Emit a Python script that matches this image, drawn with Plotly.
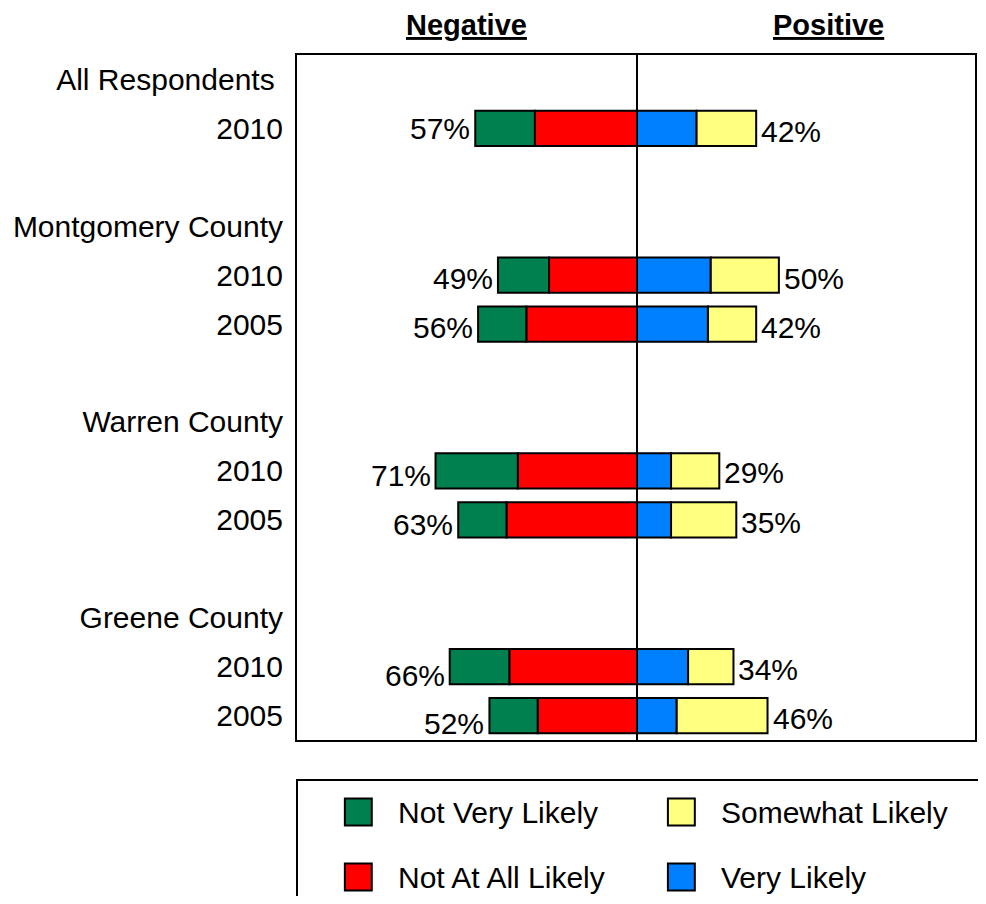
import plotly.graph_objects as go

# Row labels on the y axis (blank rows are spacers)
row_labels = ["All Respondents\u00a0", "2010", "", "Montgomery County", "2010", "2005", "",
              "Warren County", "2010", "2005", "", "Greene County", "2010", "2005"]
bar_rows = [1, 4, 5, 8, 9, 12, 13]

# Percentages per bar row
not_very_likely = [21, 18, 17, 29, 17, 21, 17]
not_at_all_likely = [36, 31, 39, 42, 46, 45, 35]
very_likely = [21, 26, 25, 12, 12, 18, 14]
somewhat_likely = [21, 24, 17, 17, 23, 16, 32]

neg_labels = ["57%", "49%", "56%", "71%", "63%", "66%", "52%"]
pos_labels = ["42%", "50%", "42%", "29%", "35%", "34%", "46%"]

GREEN = "#007F4F"
RED = "#FF0000"
BLUE = "#0080FF"
YELLOW = "#FFFF80"
FONT = "Liberation Sans, Arial, sans-serif"

# page is drawn with an 8px body margin, so work in page pixels and shift
OFF = 8
W, H = 986 - 2 * OFF, 904 - 2 * OFF
L, R, T, B = 297, 977, 55, 740
CENTER = 638
SCALE = 2.846  # pixels per percent

# small vertical nudges of the total labels, as in the original
neg_label_dy = [0, -3, -3, -5, -5, -9, -8]
pos_label_dy = [-3, -3, -3, -2, -3, -3, -3]


def px(x):
    return (x - L) / (R - L)


def py(y):
    return (B - y) / (B - T)


fig = go.Figure()
outline = dict(color="black", width=2)
# negative side: red nearest the centre, green outside
fig.add_trace(go.Bar(y=bar_rows, x=[-v for v in not_at_all_likely], orientation="h",
                     name="Not At All Likely", marker=dict(color=RED, line=outline)))
fig.add_trace(go.Bar(y=bar_rows, x=[-v for v in not_very_likely], orientation="h",
                     name="Not Very Likely", marker=dict(color=GREEN, line=outline)))
# positive side: blue nearest the centre, yellow outside
fig.add_trace(go.Bar(y=bar_rows, x=very_likely, orientation="h",
                     name="Very Likely", marker=dict(color=BLUE, line=outline)))
fig.add_trace(go.Bar(y=bar_rows, x=somewhat_likely, orientation="h",
                     name="Somewhat Likely", marker=dict(color=YELLOW, line=outline)))

annotations = []
for i, row in enumerate(bar_rows):
    neg_total = not_very_likely[i] + not_at_all_likely[i]
    pos_total = very_likely[i] + somewhat_likely[i]
    annotations.append(dict(x=-neg_total, y=row, text=neg_labels[i], showarrow=False,
                            xanchor="right", yanchor="middle", xshift=-3,
                            yshift=neg_label_dy[i],
                            font=dict(size=30, color="black", family=FONT)))
    annotations.append(dict(x=pos_total, y=row, text=pos_labels[i], showarrow=False,
                            xanchor="left", yanchor="middle", xshift=3,
                            yshift=pos_label_dy[i],
                            font=dict(size=30, color="black", family=FONT)))

# headers
annotations.append(dict(x=px(467), y=py(25), xref="paper", yref="paper",
                        text="<b><u>Negative</u></b>", showarrow=False,
                        xanchor="center", yanchor="middle",
                        font=dict(size=29, color="black", family=FONT)))
annotations.append(dict(x=px(830), y=py(25), xref="paper", yref="paper",
                        text="<b><u>Positive</u></b>", showarrow=False,
                        xanchor="center", yanchor="middle",
                        font=dict(size=29, color="black", family=FONT)))

# hand-made legend
legend_items = [("Not Very Likely", GREEN, 345, 812),
                ("Not At All Likely", RED, 345, 877),
                ("Somewhat Likely", YELLOW, 669, 812),
                ("Very Likely", BLUE, 669, 877)]
shapes = [dict(type="rect", xref="paper", yref="paper",
               x0=px(297), x1=px(1000), y0=py(780), y1=py(930),
               line=dict(color="black", width=2), fillcolor="white")]
for name, color, sx, cy in legend_items:
    shapes.append(dict(type="rect", xref="paper", yref="paper",
                       x0=px(sx), x1=px(sx + 27), y0=py(cy - 13.5), y1=py(cy + 13.5),
                       line=dict(color="black", width=2), fillcolor=color))
    annotations.append(dict(x=px(sx + 51), y=py(cy), xref="paper", yref="paper",
                            text=name, showarrow=False, xanchor="left", yanchor="middle",
                            font=dict(size=30, color="black", family=FONT)))

fig.update_layout(
    width=W, height=H,
    margin=dict(l=L - OFF, r=W + OFF - R, t=T - OFF, b=H + OFF - B),
    barmode="relative",
    bargap=0.28,
    showlegend=False,
    plot_bgcolor="white",
    paper_bgcolor="white",
    font=dict(family=FONT, size=30, color="black"),
    annotations=annotations,
    shapes=shapes,
)
fig.update_xaxes(range=[-(CENTER - L) / SCALE, (R - CENTER) / SCALE],
                 showgrid=False, showticklabels=False, ticks="",
                 zeroline=True, zerolinecolor="black", zerolinewidth=2,
                 showline=True, mirror=True, linecolor="black", linewidth=2)
fig.update_yaxes(range=[13.5, -0.5], tickmode="array", tickvals=list(range(len(row_labels))),
                 ticktext=row_labels, showgrid=False, zeroline=False, ticks="",
                 ticklabelstandoff=6, tickfont=dict(size=30, family=FONT, color="black"),
                 showline=True, mirror=True, linecolor="black", linewidth=2)

fig.write_html("out.html")
